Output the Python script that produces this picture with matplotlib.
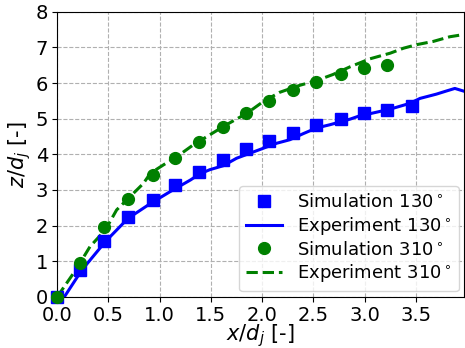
import numpy as np
import matplotlib.pyplot as plt

# Simulation points
sim_x_130 = [0.0, 0.22, 0.46, 0.69, 0.93, 1.15, 1.38, 1.62, 1.84, 2.07, 2.30, 2.53, 2.77, 2.99, 3.22, 3.46]
sim_z_130 = [0.0, 0.76, 1.57, 2.23, 2.73, 3.14, 3.51, 3.85, 4.15, 4.38, 4.60, 4.83, 4.98, 5.15, 5.25, 5.35]

sim_x_310 = [0.0, 0.22, 0.46, 0.69, 0.93, 1.15, 1.38, 1.62, 1.84, 2.07, 2.30, 2.53, 2.77, 2.99, 3.22]
sim_z_310 = [0.0, 0.96, 1.95, 2.75, 3.41, 3.91, 4.35, 4.78, 5.16, 5.51, 5.81, 6.02, 6.26, 6.42, 6.52]

# Experiment curves
exp_x_130 = [0.0, 0.07, 0.24, 0.47, 0.69, 0.91, 1.10, 1.30, 1.39, 1.49, 1.62, 1.75, 1.88, 2.01,
             2.14, 2.27, 2.40, 2.53, 2.66, 2.86, 2.95, 3.05, 3.25, 3.44, 3.54, 3.70, 3.80, 3.88, 3.96]
exp_z_130 = [0.0, 0.0, 0.75, 1.55, 2.20, 2.62, 2.95, 3.28, 3.45, 3.57, 3.68, 3.89, 4.03, 4.17,
             4.31, 4.41, 4.58, 4.74, 4.83, 4.99, 5.08, 5.14, 5.27, 5.43, 5.57, 5.69, 5.78, 5.85, 5.78]

exp_x_310 = [0.0, 0.18, 0.32, 0.47, 0.58, 0.71, 0.84, 0.91, 1.04, 1.17, 1.33, 1.49, 1.65, 1.85,
             2.01, 2.17, 2.37, 2.53, 2.69, 2.86, 3.05, 3.25, 3.38, 3.51, 3.67, 3.83, 3.96]
exp_z_310 = [0.0, 0.75, 1.41, 1.88, 2.44, 2.81, 3.18, 3.47, 3.71, 3.94, 4.27, 4.55, 4.83, 5.15,
             5.48, 5.74, 5.94, 6.07, 6.24, 6.46, 6.68, 6.84, 6.98, 7.08, 7.17, 7.30, 7.36]

fig = plt.figure(figsize=(4.65, 3.48), dpi=100)
ax = fig.add_axes([0.123, 0.147, 0.875, 0.819])

ax.plot(sim_x_130, sim_z_130, 's', color='blue', markersize=8.5, label=r'Simulation 130$^\circ$', clip_on=False, zorder=3)
ax.plot(exp_x_130, exp_z_130, '-', color='blue', linewidth=2.2, label=r'Experiment 130$^\circ$')
ax.plot(sim_x_310, sim_z_310, 'o', color='green', markersize=8.5, label=r'Simulation 310$^\circ$', clip_on=False, zorder=3)
ax.plot(exp_x_310, exp_z_310, '--', color='green', linewidth=2.2, label=r'Experiment 310$^\circ$')

ax.set_xlim(0, 3.97)
ax.set_ylim(0, 8)
ax.set_xticks(np.arange(0, 3.6, 0.5))
ax.set_yticks(range(0, 9))
ax.tick_params(labelsize=14, pad=3)
ax.set_xlabel(r'$x/d_j$ [-]', fontsize=15, labelpad=-2)
ax.set_ylabel(r'$z/d_j$ [-]', fontsize=15, labelpad=2)
ax.grid(True, linestyle='--', color='#b0b0b0')
ax.legend(loc='lower right', fontsize=13, handlelength=2, borderaxespad=0.3,
          handletextpad=0.8, labelspacing=0.2)

fig.savefig('out.png', dpi=100)
